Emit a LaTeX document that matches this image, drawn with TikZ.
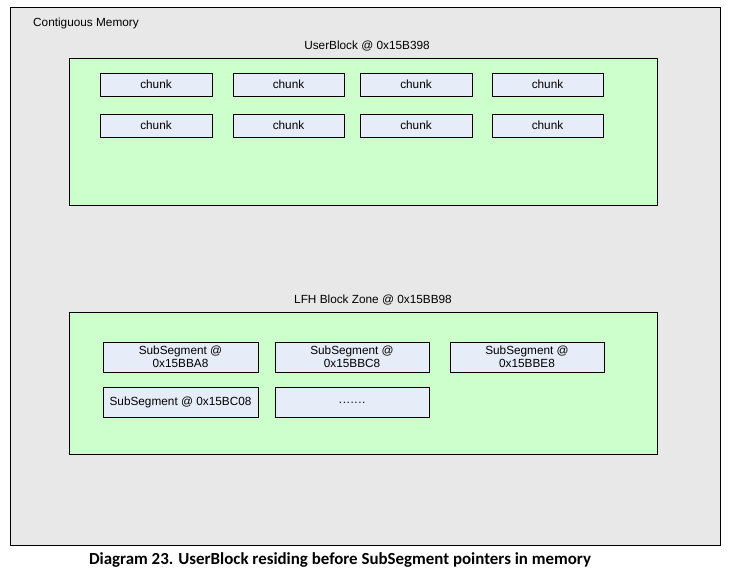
\documentclass[tikz,border=0pt]{standalone}
\usepackage{fontspec}
\setmainfont{Liberation Sans}
\newfontfamily\capfont{Carlito}
\definecolor{outerbg}{RGB}{232,232,232}
\definecolor{zonegreen}{RGB}{204,255,204}
\definecolor{chunkbg}{RGB}{230,236,248}
\begin{document}
\begin{tikzpicture}[x=1pt,y=-1pt,
  box/.style={draw=black,line width=0.9pt},
  cell/.style={box,fill=chunkbg},
  lbl/.style={font=\fontsize{11.8}{12.5}\selectfont,inner sep=0pt},
  celltxt/.style={font=\fontsize{11.8}{12.5}\selectfont,inner sep=0pt,align=center}]
\useasboundingbox (0,0) rectangle (731,576);
\fill[white] (0,0) rectangle (731,576);
% outer
\draw[box,fill=outerbg] (10,7) rectangle (720,545);
\node[lbl,anchor=west] (cm) at (33,23) {Contiguous Memory};
% UserBlock
\node[lbl] (ubl) at (367,46) {UserBlock @ 0x15B398};
\draw[box,fill=zonegreen] (69,58) rectangle (657,205);
\foreach \xa/\xb/\i in {100/212/1,233/344/2,360/472/3,492/603/4}{
  \draw[cell] (\xa,73) rectangle (\xb,96);
  \node[celltxt] (c1\i) at ({(\xa+\xb)/2},84.5) {chunk};
  \draw[cell] (\xa,114) rectangle (\xb,137);
  \node[celltxt] (c2\i) at ({(\xa+\xb)/2},125.5) {chunk};
}
% LFH Block Zone
\node[lbl] (lfl) at (373,300) {LFH Block Zone @ 0x15BB98};
\draw[box,fill=zonegreen] (69,312) rectangle (657,454);
\draw[cell] (103,342) rectangle (258,372);
\node[celltxt] (s1) at (180.5,357) {SubSegment @\\0x15BBA8};
\draw[cell] (275,342) rectangle (429,372);
\node[celltxt] (s2) at (352,357) {SubSegment @\\0x15BBC8};
\draw[cell] (450,342) rectangle (604,372);
\node[celltxt] (s3) at (527,357) {SubSegment @\\0x15BBE8};
\draw[cell] (103,387) rectangle (258,417);
\node[celltxt] (s4) at (180.5,402) {SubSegment @ 0x15BC08};
\draw[cell] (275,387) rectangle (429,417);
\node[celltxt] (s5) at (352,403) {\kern0.4pt.\kern0.6pt.\kern0.6pt.\kern0.6pt.\kern0.6pt.\kern0.6pt.\kern0.6pt.};
% caption
\node[font=\capfont\bfseries\fontsize{16.9}{18}\selectfont,inner sep=0pt] (cap) at (340,560) {Diagram 23. UserBlock residing before SubSegment pointers in memory};
\end{tikzpicture}
\end{document}
